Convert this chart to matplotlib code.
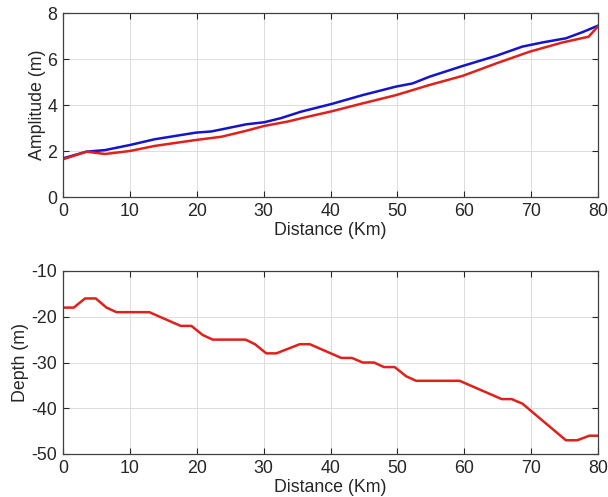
import matplotlib
matplotlib.use("Agg")
import matplotlib.pyplot as plt

# Top panel: amplitude
amp_blue_x = [0, 3.5, 6.3, 10, 13.7, 19.9, 22.2, 27.4, 30.1, 32.6, 35.6, 40.1,
              44.8, 49.8, 52.3, 54.8, 59.8, 64.8, 68.7, 71.7, 75.2, 77.7, 80]
amp_blue_y = [1.68, 1.97, 2.04, 2.26, 2.51, 2.80, 2.85, 3.16, 3.25, 3.43, 3.71, 4.04,
              4.43, 4.80, 4.94, 5.23, 5.70, 6.14, 6.54, 6.72, 6.90, 7.17, 7.45]
amp_red_x = [0, 3.5, 6.3, 10, 13.7, 19.9, 23.7, 27.4, 30.1, 33.6, 36.6, 40.1,
             44.8, 49.8, 54.8, 59.8, 64.8, 69.8, 74.7, 78.6, 80]
amp_red_y = [1.64, 1.97, 1.87, 2.00, 2.22, 2.48, 2.62, 2.88, 3.09, 3.28, 3.49, 3.72,
             4.07, 4.43, 4.87, 5.27, 5.81, 6.32, 6.72, 6.97, 7.42]

# Bottom panel: depth
depth_x = [0, 1.6, 3.3, 4.9, 6.5, 8, 12.9, 17.6, 19.2, 20.9, 22.4, 27.3, 28.7,
           30.4, 31.9, 35.4, 36.9, 41.6, 43.2, 44.8, 46.5, 48.0, 49.6, 51.3,
           52.8, 59.3, 65.6, 67.1, 68.7, 75.2, 76.9, 78.7, 80]
depth_y = [-18, -18, -16, -16, -18, -19, -19, -22, -22, -24, -25, -25, -26,
           -28, -28, -26, -26, -29, -29, -30, -30, -31, -31, -33,
           -34, -34, -38, -38, -39, -47, -47, -46, -46]

xticks = [0, 10, 20, 30, 40, 50, 60, 70, 80]
amp_ticks = [0, 2, 4, 6, 8]
depth_ticks = [-50, -40, -30, -20, -10]

plt.rcParams['font.family'] = ['Liberation Sans', 'DejaVu Sans']
plt.rcParams['axes.unicode_minus'] = False
txt = '#262626'
fs = 12.8
fig = plt.figure(figsize=(6.08, 4.97), dpi=100)

W, H = 608, 497
def rect(l, t, r, b):
    return [l / W, 1 - b / H, (r - l) / W, (b - t) / H]

ax1 = fig.add_axes(rect(63, 13, 598, 197))
ax2 = fig.add_axes(rect(63, 271, 598, 454))

blue = '#1414cc'
red = '#e0201a'
ax1.plot(amp_blue_x, amp_blue_y, color=blue, lw=1.8)
ax1.plot(amp_red_x, amp_red_y, color=red, lw=1.8)
ax1.set_ylim(0, 8)
ax1.set_yticks(amp_ticks)
ax1.set_ylabel('Amplitude (m)', fontsize=fs, color=txt, labelpad=1)

ax2.plot(depth_x, depth_y, color=red, lw=1.8)
ax2.set_ylim(-50, -10)
ax2.set_yticks(depth_ticks)
ax2.set_ylabel('Depth (m)', fontsize=fs, color=txt, labelpad=2)

for ax in (ax1, ax2):
    ax.set_xlim(0, 80)
    ax.set_xticks(xticks)
    ax.set_xlabel('Distance (Km)', fontsize=fs, color=txt, labelpad=2)
    ax.grid(True, color='#dcdcdc', lw=0.7)
    ax.set_axisbelow(True)
    ax.tick_params(direction='in', top=True, right=True, length=4, width=0.8,
                   labelsize=fs, colors=txt, pad=4)
    for s in ax.spines.values():
        s.set_color('#404040')
        s.set_linewidth(0.9)

fig.savefig('out.png', dpi=100)
